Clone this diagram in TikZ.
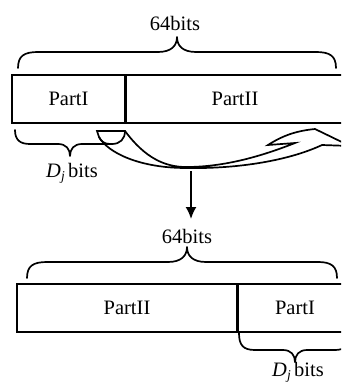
\documentclass[tikz,border=0pt]{standalone}
\usepackage{fontspec}
\setmainfont{Liberation Serif}
\usetikzlibrary{arrows.meta}
\begin{document}
\begin{tikzpicture}[x=1pt,y=-1pt,line width=1.6pt,
  txt/.style={font=\fontsize{20.5}{22}\selectfont, inner sep=0pt},
  partbox/.style={draw, line width=1.6pt, inner sep=0pt, font=\fontsize{20.5}{22}\selectfont},
  curly/.style={line width=1.7pt, line cap=round, line join=round}]
\useasboundingbox (0,0) rectangle (341,385);
\clip (0,0) rectangle (341,385);
% ---------- top word ----------
\node[partbox, minimum width=113pt, minimum height=48pt] (p1) at (68.5,99) {PartI};
\node[partbox, minimum width=225pt, minimum height=48pt, anchor=west] (p2) at (p1.east) {};
\node[txt] (p2t) at (235,99) {PartII};
\node[txt] (t1) at (175,23) {64bits};
\draw[curly] (18,68) .. controls (18,56) and (24,52) .. (38,52) -- (158,52)
  .. controls (171,52) and (177,46) .. (177,37)
  .. controls (177,46) and (183,52) .. (196,52) -- (316,52)
  .. controls (330,52) and (336,56) .. (336,68);
\draw[curly] (15,130) .. controls (15,140) and (20,144) .. (30,144) -- (58,144)
  .. controls (66,144) and (70,149) .. (70,156)
  .. controls (70,149) and (74,144) .. (82,144) -- (112,144)
  .. controls (120,144) and (125,139) .. (125,131);
\node[txt] (d1) at (72,173) {\textit{D}\raisebox{-0.35ex}{\fontsize{13.5}{14}\selectfont\textit{j}}\,bits};
% ---------- curved hollow arrow ----------
\draw[line width=1.7pt, line join=miter] (97,131) -- (125,131)
  .. controls (145,158) and (165,167) .. (186,167)
  .. controls (225,167) and (262,156) .. (295,143)
  -- (268,145)
  .. controls (282,136) and (295,131) .. (315,129)
  -- (350,146) -- (322,145)
  .. controls (290,160) and (240,169) .. (186,168)
  .. controls (140,168) and (108,153) .. (99,137) -- cycle;
\draw[line width=1.7pt] (99,137) .. controls (101,141) and (104,144) .. (110,144);
% ---------- down arrow ----------
\coordinate (a0) at (191,171);
\coordinate (a1) at (191,219);
\draw[line width=1.8pt, -{Latex[length=12pt,width=11pt]}] (a0) -- (a1);
% ---------- bottom word ----------
\node[txt] (t2) at (187,236) {64bits};
\draw[curly] (27,278) .. controls (27,266) and (33,262) .. (47,262) -- (168,262)
  .. controls (181,262) and (187,256) .. (187,247)
  .. controls (187,256) and (193,262) .. (206,262) -- (318,262)
  .. controls (331,262) and (337,266) .. (337,278);
\node[partbox, minimum width=220pt, minimum height=48pt] (q2) at (127,308) {PartII};
\node[partbox, minimum width=118pt, minimum height=48pt, anchor=west] (q1) at (q2.east) {};
\node[txt] (q1t) at (295,308) {PartI};
\draw[curly] (239,333) .. controls (239,345) and (243,350) .. (255,350) -- (283,350)
  .. controls (291,350) and (295,355) .. (295,362)
  .. controls (295,355) and (299,350) .. (307,350) -- (335,350)
  .. controls (345,350) and (351,345) .. (351,333);
\node[txt, anchor=south] (d2) at (298,383) {\textit{D}\raisebox{-0.35ex}{\fontsize{13.5}{14}\selectfont\textit{j}}\,bits};
\end{tikzpicture}
\end{document}
